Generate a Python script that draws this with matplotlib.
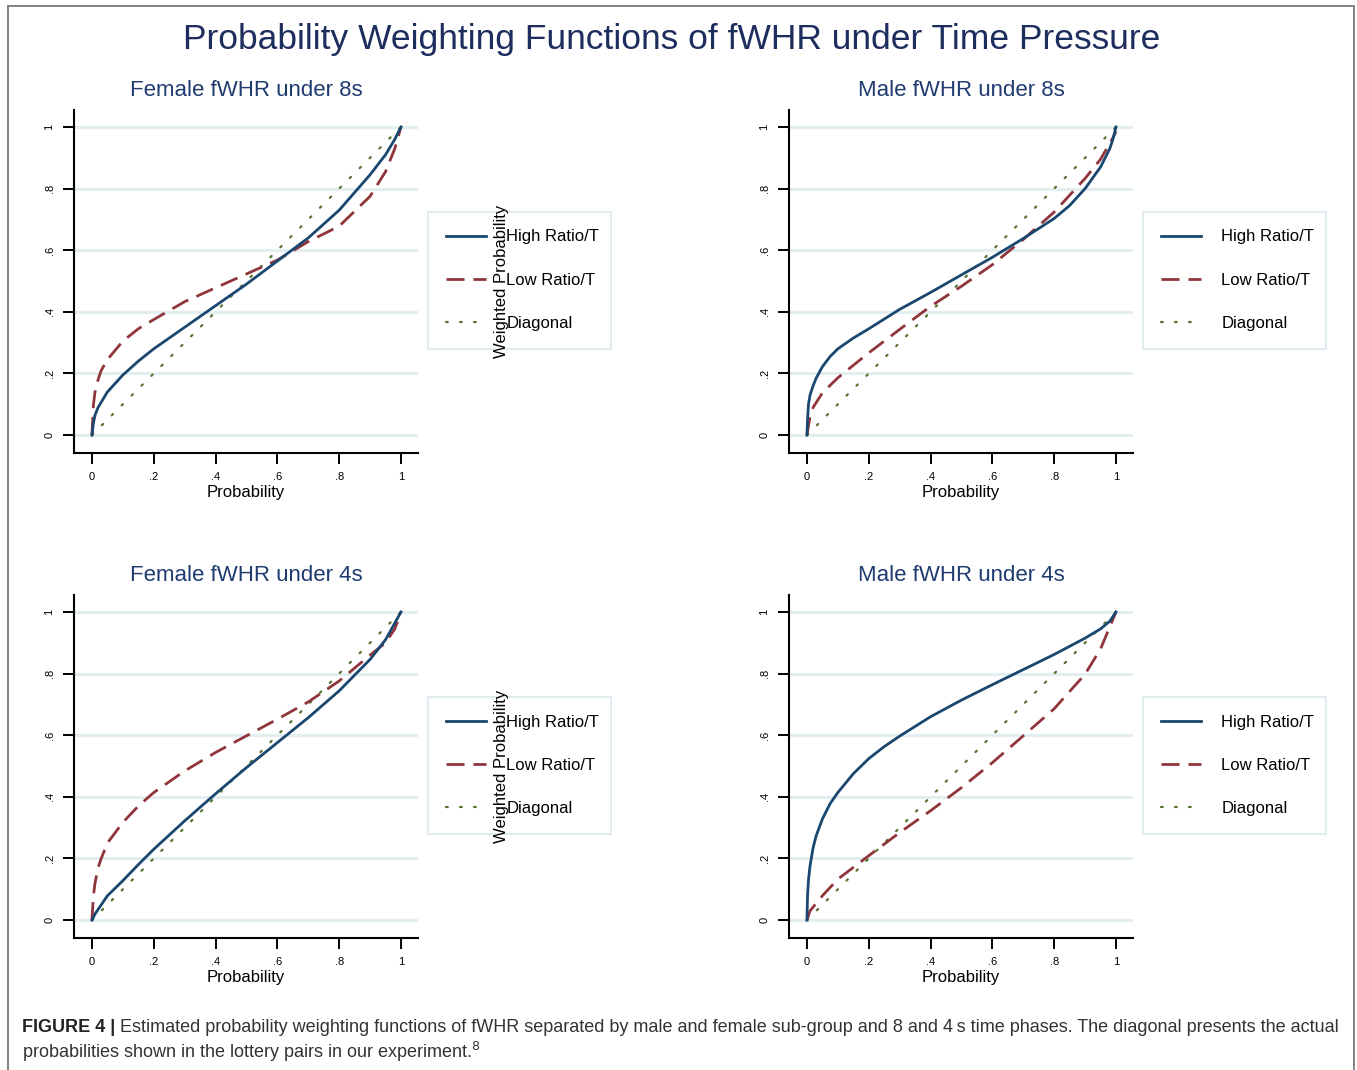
import matplotlib
matplotlib.use("Agg")
import matplotlib.pyplot as plt
from matplotlib.patches import Rectangle

plt.rcParams['font.family'] = ['Liberation Sans', 'DejaVu Sans']

# ---------------- data ----------------
titles = ["Female fWHR under 8s", "Male fWHR under 8s",
          "Female fWHR under 4s", "Male fWHR under 4s"]
series_names = ["High Ratio/T", "Low Ratio/T", "Diagonal"]
tick_vals = [0, 0.2, 0.4, 0.6, 0.8, 1]
tick_labels = ["0", ".2", ".4", ".6", ".8", "1"]

f8_high_x = [0, 0.005, 0.01, 0.02, 0.05, 0.1, 0.15, 0.2, 0.3, 0.4, 0.5, 0.6, 0.7, 0.8, 0.9, 0.95, 0.98, 1.0]
f8_high_y = [0, 0.04, 0.065, 0.09, 0.14, 0.195, 0.24, 0.28, 0.35, 0.42, 0.49, 0.565, 0.64, 0.73, 0.845, 0.91, 0.96, 1.0]
f8_low_x = [0, 0.005, 0.01, 0.02, 0.03, 0.05, 0.1, 0.15, 0.2, 0.3, 0.4, 0.5, 0.6, 0.7, 0.8, 0.9, 0.95, 0.98, 1.0]
f8_low_y = [0, 0.1, 0.14, 0.18, 0.21, 0.245, 0.305, 0.345, 0.375, 0.433, 0.478, 0.523, 0.568, 0.628, 0.678, 0.775, 0.855, 0.93, 1.0]

m8_high_x = [0, 0.002, 0.005, 0.01, 0.02, 0.03, 0.05, 0.075, 0.1, 0.15, 0.2, 0.3, 0.4, 0.5, 0.6, 0.7, 0.8, 0.85, 0.9, 0.95, 0.98, 0.99, 1.0]
m8_high_y = [0, 0.05, 0.1, 0.13, 0.16, 0.185, 0.222, 0.255, 0.28, 0.315, 0.345, 0.408, 0.463, 0.52, 0.577, 0.638, 0.703, 0.745, 0.8, 0.87, 0.93, 0.96, 1.0]
m8_low_x = [0, 0.01, 0.02, 0.05, 0.1, 0.2, 0.3, 0.4, 0.5, 0.6, 0.7, 0.8, 0.9, 0.95, 0.99, 1.0]
m8_low_y = [0, 0.06, 0.09, 0.137, 0.186, 0.267, 0.343, 0.418, 0.483, 0.553, 0.635, 0.724, 0.833, 0.895, 0.965, 0.985]

f4_high_x = [0, 0.01, 0.05, 0.1, 0.15, 0.2, 0.3, 0.4, 0.5, 0.6, 0.7, 0.8, 0.9, 0.95, 1.0]
f4_high_y = [0, 0.02, 0.079, 0.128, 0.18, 0.23, 0.322, 0.41, 0.495, 0.576, 0.657, 0.744, 0.846, 0.91, 1.0]
f4_low_x = [0, 0.005, 0.01, 0.02, 0.03, 0.05, 0.1, 0.15, 0.2, 0.3, 0.4, 0.5, 0.6, 0.7, 0.8, 0.9, 0.95, 0.98, 1.0]
f4_low_y = [0, 0.08, 0.12, 0.17, 0.2, 0.25, 0.317, 0.37, 0.414, 0.484, 0.544, 0.598, 0.652, 0.708, 0.776, 0.86, 0.9, 0.945, 1.0]

m4_high_x = [0, 0.002, 0.005, 0.01, 0.02, 0.03, 0.05, 0.075, 0.1, 0.15, 0.2, 0.25, 0.3, 0.4, 0.5, 0.6, 0.7, 0.8, 0.9, 0.95, 0.98, 1.0]
m4_high_y = [0, 0.08, 0.13, 0.176, 0.235, 0.274, 0.328, 0.378, 0.414, 0.475, 0.524, 0.563, 0.597, 0.66, 0.714, 0.764, 0.813, 0.862, 0.915, 0.945, 0.97, 1.0]
m4_low_x = [0, 0.01, 0.05, 0.1, 0.2, 0.3, 0.4, 0.5, 0.6, 0.7, 0.8, 0.9, 0.95, 1.0]
m4_low_y = [0, 0.03, 0.079, 0.133, 0.209, 0.284, 0.355, 0.43, 0.511, 0.598, 0.686, 0.798, 0.88, 1.0]

diag_x = [0, 1]
diag_y = [0, 1]

panels = [
    (f8_high_x, f8_high_y, f8_low_x, f8_low_y),
    (m8_high_x, m8_high_y, m8_low_x, m8_low_y),
    (f4_high_x, f4_high_y, f4_low_x, f4_low_y),
    (m4_high_x, m4_high_y, m4_low_x, m4_low_y),
]

main_title = "Probability Weighting Functions of fWHR under Time Pressure"
xlabel = "Probability"
ylabel = "Weighted Probability"
caption_bold = "FIGURE 4 |"
caption_1 = (" Estimated probability weighting functions of fWHR separated by male and female "
             "sub-group and 8 and 4\u2009s time phases. The diagonal presents the actual")
caption_2 = "probabilities shown in the lottery pairs in our experiment.$^{8}$"

# ---------------- style ----------------
C_HIGH = "#1a476f"
C_LOW = "#90353b"
C_DIAG = "#55752f"
C_GRID = "#e3eef1"
C_TITLE = "#1c2d5e"
C_SUB = "#1f3b70"

W, H = 1357, 1070
fig = plt.figure(figsize=(W / 100, H / 100), dpi=100)

def fx(px):
    return px / W

def fy(py):
    return 1 - py / H

ax_w = 344 / W
ax_h = 343 / H
lefts = [74, 789]
bottoms = [453, 938]
legend_lefts = [428, 1143]
legend_tops = [212, 697]

axes = []
for i in range(4):
    r, c = divmod(i, 2)
    ax = fig.add_axes([fx(lefts[c]), fy(bottoms[r]), ax_w, ax_h])
    axes.append(ax)
    hx, hy, lx, ly = panels[i]
    for t in tick_vals:
        ax.axhline(t, color=C_GRID, lw=2.2, zorder=0)
    ax.plot(diag_x, diag_y, color=C_DIAG, lw=1.6, linestyle=(0, (0.8, 5.5)),
            dash_capstyle='round', label=series_names[2], zorder=2)
    ax.plot(lx, ly, color=C_LOW, lw=2.0, dashes=(6.5, 3.2), label=series_names[1], zorder=3)
    ax.plot(hx, hy, color=C_HIGH, lw=2.0, label=series_names[0], zorder=4)

    ax.set_xlim(-0.058, 1.055)
    ax.set_ylim(-0.058, 1.055)
    for s in ["top", "right"]:
        ax.spines[s].set_visible(False)
    for s in ["left", "bottom"]:
        ax.spines[s].set_linewidth(1.5)
        ax.spines[s].set_color("black")
    ax.set_xticks(tick_vals)
    ax.set_xticklabels(tick_labels, fontsize=8)
    ax.set_yticks(tick_vals)
    ax.set_yticklabels(tick_labels, fontsize=8, rotation=90, va='center')
    ax.tick_params(length=8, width=1.4, pad=6)
    ax.set_xlabel(xlabel, fontsize=12, labelpad=2)
    ax.set_title(titles[i], fontsize=16, color=C_SUB, pad=10)

    handles, labels = ax.get_legend_handles_labels()
    order = [2, 1, 0]
    leg_h = 0.002
    leg = ax.legend([handles[k] for k in order], [labels[k] for k in order],
                    loc='upper left',
                    bbox_to_anchor=(fx(legend_lefts[c]), fy(legend_tops[r]) - leg_h, 183 / W, leg_h),
                    bbox_transform=fig.transFigure, mode='expand',
                    borderaxespad=0, fontsize=12, frameon=True, fancybox=False,
                    handlelength=2.4, handletextpad=1.25, labelspacing=1.7,
                    borderpad=1.05)
    leg.get_frame().set_edgecolor("#dbe7eb")
    leg.get_frame().set_linewidth(1.5)
    if c == 1:
        ax.set_ylabel(ylabel, fontsize=12)
        ax.yaxis.set_label_coords(-0.814, 0.5)
        ax.yaxis.label.set_zorder(10)

fig.text(0.495, fy(39), main_title, ha='center', va='center', fontsize=25.5, color=C_TITLE)

# border frame
fig.add_artist(Rectangle((fx(8), fy(1075)), fx(1354) - fx(8), fy(6) - fy(1075),
                         transform=fig.transFigure, fill=False, edgecolor="#7a7a7a", lw=1.3))

# caption
cap_font = ['Liberation Sans Narrow', 'Liberation Sans', 'DejaVu Sans']
tb = fig.text(fx(22), fy(1027), caption_bold, ha='left', va='center', fontsize=13,
              fontweight='bold', family=cap_font, color="#222222")
renderer = fig.canvas.get_renderer()
bb = tb.get_window_extent(renderer=renderer)
fig.text(bb.x1 / W, fy(1027), caption_1, ha='left', va='center', fontsize=13,
         family=cap_font, color="#333333")
fig.text(fx(22), fy(1052), caption_2, ha='left', va='center', fontsize=13,
         family=cap_font, color="#333333")

fig.savefig("out.png", dpi=100)
